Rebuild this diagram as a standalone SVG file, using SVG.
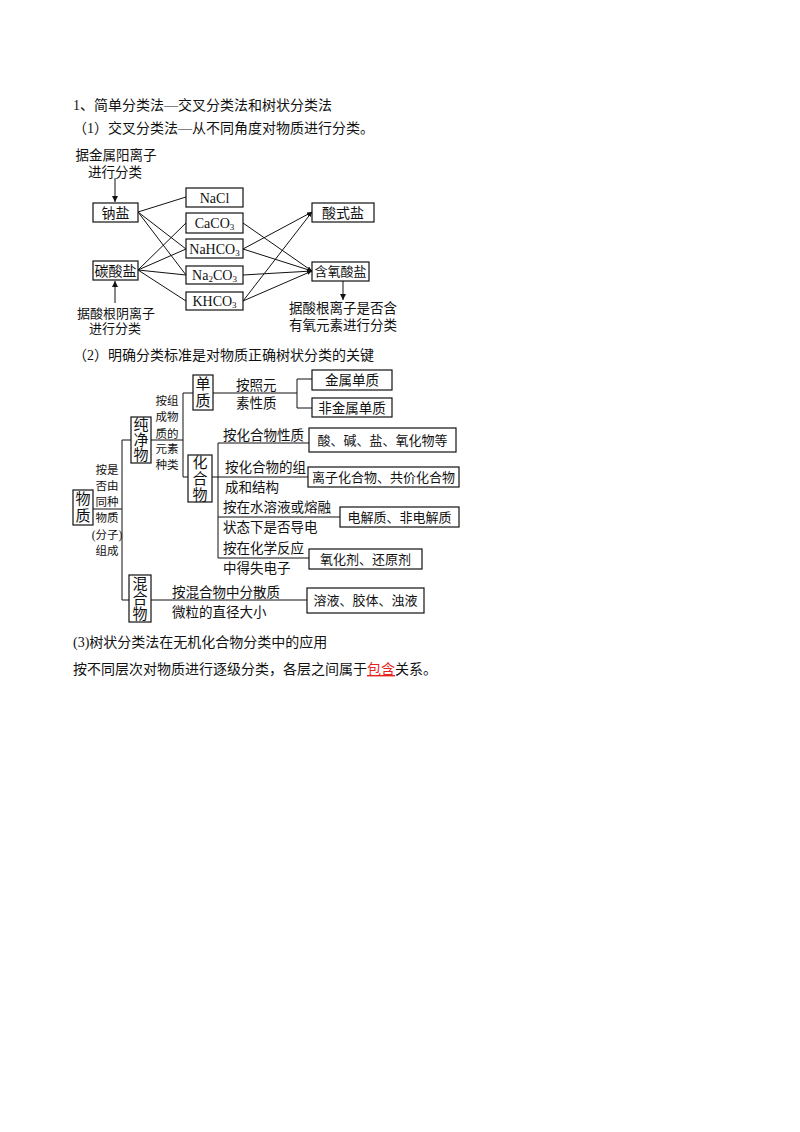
<svg xmlns="http://www.w3.org/2000/svg" width="800" height="1132" viewBox="0 0 800 1132">
<style>
.t{font-family:"Liberation Serif","Noto Sans CJK SC",serif;fill:#111}
.s14{font-size:14px}
.s13{font-size:13px}
.s135{font-size:13.5px}
.s11{font-size:11.5px}
.s15{font-size:15px}
.m{text-anchor:middle}
.box{fill:#fff;stroke:#111;stroke-width:1.2}
.ln{stroke:#111;stroke-width:1;fill:none}
.red{fill:#e8231e}
</style>
<defs>
<marker id="ah" markerWidth="6" markerHeight="6" refX="6" refY="3" orient="auto" markerUnits="userSpaceOnUse">
<path d="M0,0 L6,3 L0,6 Z" fill="#111"/>
</marker>
<marker id="ahs" markerWidth="5" markerHeight="4" refX="5" refY="2" orient="auto" markerUnits="userSpaceOnUse">
<path d="M0,0 L5,2 L0,4 Z" fill="#111"/>
</marker>
</defs>
<rect width="800" height="1132" fill="#fff"/>

<g id="headings">
<text class="t s14" x="73" y="110">1、简单分类法—交叉分类法和树状分类法</text>
<text class="t s14" x="73" y="133">（1）交叉分类法—从不同角度对物质进行分类。</text>
<text class="t s14" x="73" y="360">（2）明确分类标准是对物质正确树状分类的关键</text>
<text class="t s14" x="73" y="647">(3)树状分类法在无机化合物分类中的应用</text>
<text class="t s14" x="73" y="674">按不同层次对物质进行逐级分类，各层之间属于<tspan class="red" text-decoration="underline">包含</tspan>关系。</text>
</g>

<g id="connectors">
<line class="ln" x1="115" y1="178" x2="115" y2="202" marker-end="url(#ah)"/>
<line class="ln" x1="115" y1="303" x2="115" y2="281" marker-end="url(#ah)"/>
<line class="ln" x1="343" y1="281" x2="343" y2="300" marker-end="url(#ah)"/>
<line class="ln" x1="138" y1="212" x2="186" y2="197"/>
<line class="ln" x1="138" y1="212" x2="186" y2="249"/>
<line class="ln" x1="138" y1="212" x2="186" y2="275"/>
<line class="ln" x1="138" y1="270" x2="186" y2="223"/>
<line class="ln" x1="138" y1="270" x2="186" y2="249"/>
<line class="ln" x1="138" y1="270" x2="186" y2="275"/>
<line class="ln" x1="138" y1="270" x2="186" y2="301"/>
<line class="ln" x1="243" y1="223" x2="312" y2="271" marker-end="url(#ahs)"/>
<line class="ln" x1="243" y1="249" x2="312" y2="212" marker-end="url(#ahs)"/>
<line class="ln" x1="243" y1="249" x2="312" y2="271" marker-end="url(#ahs)"/>
<line class="ln" x1="243" y1="275" x2="312" y2="271" marker-end="url(#ahs)"/>
<line class="ln" x1="243" y1="301" x2="312" y2="212" marker-end="url(#ahs)"/>
<line class="ln" x1="243" y1="301" x2="312" y2="271" marker-end="url(#ahs)"/>

<path class="ln" d="M93,509 H122 M122,440 V600 M122,440 H131 M122,600 H129"/>
<path class="ln" d="M151,440 H183 M183,393 V477 M183,393 H193 M183,477 H188"/>
<path class="ln" d="M213,393 H297 M297,379 V408 M297,379 H312 M297,408 H312"/>
<path class="ln" d="M212,477 H308 M218,443 V558 M218,443 H309 M218,517 H340 M218,558 H309"/>
<path class="ln" d="M151,600 H307"/>
</g>

<g id="label-top1">
<text class="t s135 m" x="116" y="160">据金属阳离子</text>
<text class="t s135 m" x="115" y="177">进行分类</text>
</g>
<g id="label-top2">
<text class="t s13 m" x="116" y="318">据酸根阴离子</text>
<text class="t s13 m" x="115" y="333">进行分类</text>
</g>
<g id="label-top3">
<text class="t s135 m" x="343" y="313">据酸根离子是否含</text>
<text class="t s135 m" x="343" y="330">有氧元素进行分类</text>
</g>

<g id="n-nayan"><rect class="box" x="93" y="203" width="45" height="19"/><text class="t s14 m" x="115.5" y="217.5">钠盐</text></g>
<g id="n-tansuanyan"><rect class="box" x="93" y="261" width="45" height="19"/><text class="t s14 m" x="115.5" y="275.5">碳酸盐</text></g>
<g id="n-nacl"><rect class="box" x="186" y="188" width="57" height="19"/><text class="t s14 m" x="214.5" y="202.5">NaCl</text></g>
<g id="n-caco3"><rect class="box" x="186" y="213" width="57" height="20"/><text class="t s14 m" x="214.5" y="228">CaCO<tspan font-size="9" dy="2">3</tspan></text></g>
<g id="n-nahco3"><rect class="box" x="186" y="239" width="57" height="19"/><text class="t s14 m" x="214.5" y="253.5">NaHCO<tspan font-size="9" dy="2">3</tspan></text></g>
<g id="n-na2co3"><rect class="box" x="186" y="266" width="57" height="18"/><text class="t s14 m" x="214.5" y="280">Na<tspan font-size="9" dy="2">2</tspan><tspan dy="-2">CO</tspan><tspan font-size="9" dy="2">3</tspan></text></g>
<g id="n-khco3"><rect class="box" x="186" y="292" width="57" height="18"/><text class="t s14 m" x="214.5" y="306">KHCO<tspan font-size="9" dy="2">3</tspan></text></g>
<g id="n-suanshiyan"><rect class="box" x="312" y="203" width="62" height="19"/><text class="t s14 m" x="343" y="217.5">酸式盐</text></g>
<g id="n-hanyangsuanyan"><rect class="box" x="312" y="262" width="57" height="19"/><text class="t s13 m" x="340.5" y="276">含氧酸盐</text></g>

<g id="n-wuzhi"><rect class="box" x="73" y="490" width="20" height="35"/><text class="t s15 m" x="83" y="504">物</text><text class="t s15 m" x="83" y="521">质</text></g>
<g id="label-tongzhong">
<text class="t s11 m" x="107" y="474">按是</text>
<text class="t s11 m" x="107" y="490">否由</text>
<text class="t s11 m" x="107" y="506">同种</text>
<text class="t s11 m" x="107" y="522">物质</text>
<text class="t s11 m" x="107" y="539">(分子)</text>
<text class="t s11 m" x="107" y="555">组成</text>
</g>
<g id="n-chunjingwu"><rect class="box" x="131" y="417" width="20" height="46"/><text class="t s15 m" x="141" y="430">纯</text><text class="t s15 m" x="141" y="445">净</text><text class="t s15 m" x="141" y="460">物</text></g>
<g id="n-hunhewu"><rect class="box" x="129" y="575" width="22" height="47"/><text class="t s15 m" x="140" y="589">混</text><text class="t s15 m" x="140" y="604">合</text><text class="t s15 m" x="140" y="619">物</text></g>
<g id="label-yuansu">
<text class="t s11 m" x="167" y="405">按组</text>
<text class="t s11 m" x="167" y="421">成物</text>
<text class="t s11 m" x="167" y="438">质的</text>
<text class="t s11 m" x="167" y="453">元素</text>
<text class="t s11 m" x="167" y="469">种类</text>
</g>
<g id="n-danzhi"><rect class="box" x="193" y="375" width="20" height="35"/><text class="t s15 m" x="203" y="389">单</text><text class="t s15 m" x="203" y="406">质</text></g>
<g id="label-xingzhi">
<text class="t s135" x="236" y="390">按照元</text>
<text class="t s135" x="236" y="408">素性质</text>
</g>
<g id="n-jinshu"><rect class="box" x="312" y="370" width="80" height="20"/><text class="t s135 m" x="352" y="385">金属单质</text></g>
<g id="n-feijinshu"><rect class="box" x="312" y="398" width="80" height="19"/><text class="t s135 m" x="352" y="412.5">非金属单质</text></g>
<g id="n-huahewu"><rect class="box" x="188" y="455" width="24" height="47"/><text class="t s15 m" x="200" y="468">化</text><text class="t s15 m" x="200" y="484">合</text><text class="t s15 m" x="200" y="500">物</text></g>
<g id="label-b1"><text class="t s135" x="223" y="440">按化合物性质</text></g>
<g id="n-suanjian"><rect class="box" x="309" y="428" width="147" height="24"/><text class="t s13 m" x="382.5" y="444.5">酸、碱、盐、氧化物等</text></g>
<g id="label-b2"><text class="t s135" x="225" y="472">按化合物的组</text><text class="t s135" x="225" y="492">成和结构</text></g>
<g id="n-lizi"><rect class="box" x="308" y="467" width="151" height="20"/><text class="t s13 m" x="383.5" y="481.5">离子化合物、共价化合物</text></g>
<g id="label-b3"><text class="t s135" x="223" y="512">按在水溶液或熔融</text><text class="t s135" x="223" y="532">状态下是否导电</text></g>
<g id="n-dianjiezhi"><rect class="box" x="340" y="507" width="119" height="20"/><text class="t s13 m" x="399.5" y="521.5">电解质、非电解质</text></g>
<g id="label-b4"><text class="t s135" x="223" y="553">按在化学反应</text><text class="t s135" x="223" y="573">中得失电子</text></g>
<g id="n-yanghuaji"><rect class="box" x="309" y="549" width="113" height="20"/><text class="t s13 m" x="365.5" y="563.5">氧化剂、还原剂</text></g>
<g id="label-b5"><text class="t s135" x="172" y="597">按混合物中分散质</text><text class="t s135" x="172" y="617">微粒的直径大小</text></g>
<g id="n-rongye"><rect class="box" x="307" y="588" width="117" height="25"/><text class="t s13 m" x="365.5" y="605">溶液、胶体、浊液</text></g>
</svg>
